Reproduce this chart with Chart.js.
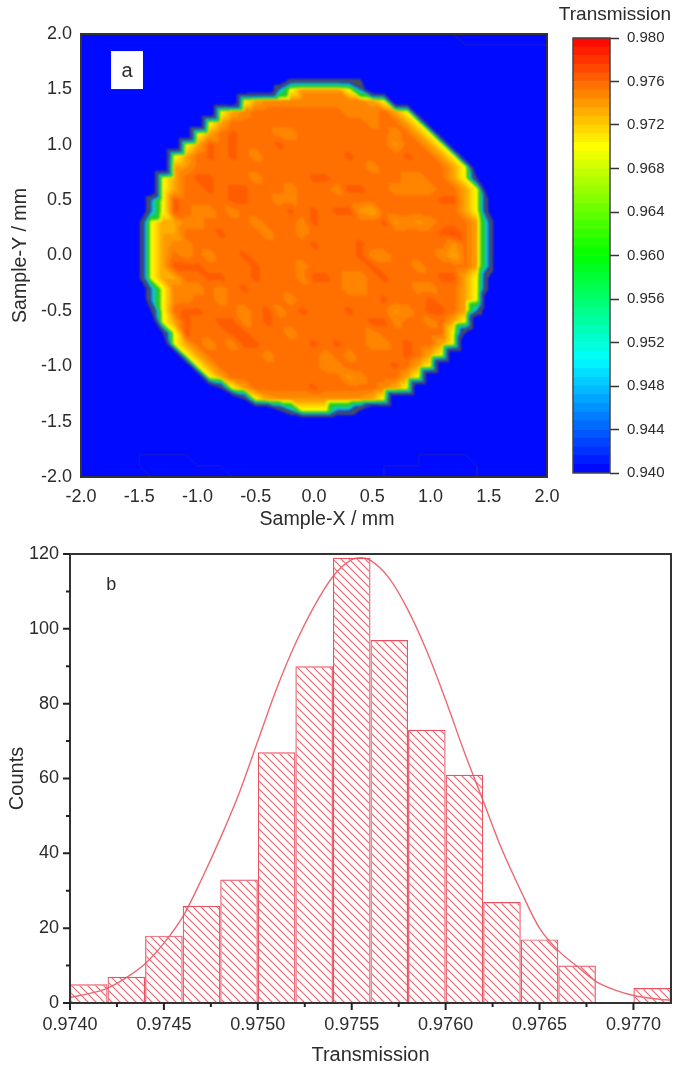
<!DOCTYPE html>
<html>
<head>
<meta charset="utf-8">
<title>Transmission</title>
<script src="https://cdn.jsdelivr.net/npm/chart.js@4"></script>
<style>
  html, body { margin: 0; padding: 0; background: #fff; }
  canvas { position: absolute; }
  #mapChart { left: 0; top: 0; }
  #barChart { left: 556px; top: 0; }
  #histChart { left: 0; top: 530px; }
</style>
</head>
<body>
<canvas id="mapChart" width="570" height="534"></canvas>
<canvas id="barChart" width="118" height="490"></canvas>
<canvas id="histChart" width="674" height="537"></canvas>
<script>
// panel a: transmission read on a 0.1 mm grid, one letter per node
const gridCoords = [-2.0,-1.9,-1.8,-1.7,-1.6,-1.5,-1.4,-1.3,-1.2,-1.1,-1.0,-0.9,-0.8,-0.7,-0.6,-0.5,-0.4,-0.3,-0.2,-0.1,0,
  0.1,0.2,0.3,0.4,0.5,0.6,0.7,0.8,0.9,1.0,1.1,1.2,1.3,1.4,1.5,1.6,1.7,1.8,1.9,2.0];
const cellKeys = '.igyabcdef';
const cellValues = [0.900,0.925,0.945,0.970,0.9735,0.9742,0.9748,0.9755,0.9763,0.9770];
const firstRow = 4;
const rowStart = [18,17,14,12,11,10,9,8,8,7,7,6,6,5,5,5,5,5,5,6,6,6,7,7,8,9,10,11,12,14,17];
const rowCells = [
  'iiiiiii',
  'gybbbbyg',
  'yacccccccccay',
  'yacddddddddcccday',
  'yaddddddddddddcdday',
  'yadedddccddddddddcday',
  'yaededddedddddddddbdday',
  'yadededcdddddddeddddedday',
  'abdddddddddddddddcdddddday',
  'yadeedddcddddeeddddddccddayi',
  'yaddedeedddcdddceeddccccdday',
  'gyeddddeeddccddddddddddddeeayi',
  'gyedccdcddddededeebadddddddayi',
  'iyaaccddddcdddcedddddebcbcdddag',
  'iyaadddedddcddcdddddddddddefdag',
  'iyaccddddddddddedddedddddddbdag',
  'iyadcdcddedddddddddeccddddcadag',
  'iyaeeeddddedddcdddddedddcddddag',
  'iyaaddeeddedddceedccdeddddeeayi',
  'gycccdcdeddddddddccddddccddayi',
  'gyccddcdddddcdddddddedddedday',
  'iydeedddcdecdedddedddbcdeedag',
  'yaeddeecdeddddddddeecddcday',
  'iyedddeedddcddddddcddddddyi',
  'yadcdceeddddededdccdedday',
  'yadddddcddddcdcddddeday',
  'yadddddddddccddddeday',
  'yaddddddddddbcddday',
  'iyadddddedddddcay',
  'iyabbbbbbbbay',
  'igyyyggi'
];
const mapTicks = [-2.0,-1.5,-1.0,-0.5,0,0.5,1.0,1.5,2.0];

// faint low level contour lines in the blue corners
const lineTopX = [1.2,1.3,2.0];
const lineTopY = [2.0,1.9,1.9];
const lineLeftX = [-1.4,-1.5,-1.5,-1.1,-1.0,-0.8,-0.7];
const lineLeftY = [-2.0,-1.9,-1.8,-1.8,-1.9,-1.9,-2.0];
const lineRightX = [0.6,0.6,0.9,0.9,1.3,1.4,1.4];
const lineRightY = [-2.0,-1.9,-1.9,-1.8,-1.8,-1.9,-2.0];

// colour scale
const levelEdges = [0.9400,0.9408,0.9416,0.9424,0.9432,0.9440,0.9448,0.9456,0.9464,0.9472,0.9480,0.9488,0.9496,
  0.9504,0.9512,0.9520,0.9528,0.9536,0.9544,0.9552,0.9560,0.9568,0.9576,0.9584,0.9592,0.9600,0.9608,0.9616,0.9624,
  0.9632,0.9640,0.9648,0.9656,0.9664,0.9672,0.9680,0.9688,0.9696,0.9704,0.9712,0.9720,0.9728,0.9736,0.9744,0.9752,
  0.9760,0.9768,0.9776,0.9784,0.9792,0.9800];
const barTicks = [0.940,0.944,0.948,0.952,0.956,0.960,0.964,0.968,0.972,0.976,0.980];
const stopValues = [0.940,0.9505,0.960,0.970,0.980];
const stopColors = [[0,0,255],[0,255,255],[0,255,0],[255,255,0],[255,0,0]];

// panel b: histogram and fitted curve
const binCenters = [0.9741,0.9743,0.9745,0.9747,0.9749,0.9751,0.9753,0.9755,0.9757,0.9759,0.9761,0.9763,0.9765,0.9767,0.9769,0.9771];
const binCounts = [5,7,18,26,33,67,90,119,97,73,61,27,17,10,0,4];
const curveX = [0.9740,0.9741,0.9742,0.9743,0.9744,0.9745,0.9746,0.9747,0.9748,0.9749,0.9750,0.9751,0.9752,0.9753,0.9754,0.9755,
  0.97555,0.9756,0.9757,0.9758,0.9759,0.9760,0.9761,0.9762,0.9763,0.9764,0.9765,0.9766,0.9767,0.9768,0.9769,0.9770,0.9771,0.9772];
const curveY = [1.5,2.5,4,6.8,10.5,16,23,33,44,56,70,84,96,106,114,118.5,119,118.3,113.5,105,94,81,67,54,41,30,20,14,9.8,5.8,3.5,2,1.2,0.7];
const histXTicks = [0.9740,0.9745,0.9750,0.9755,0.9760,0.9765,0.9770];
const histXMinor = [0.97425,0.97475,0.97525,0.97575,0.97625,0.97675];
const histYTicks = [0,20,40,60,80,100,120];
const histYMinor = [10,30,50,70,90,110];

const FONT = '"Liberation Sans", Arial, sans-serif';
const TEXT = '#2b2b2b';
const RED = '#ea5262';
const RIM = [70, 78, 92];

function zip(xs, ys) { return xs.map((x, i) => ({ x, y: ys[i] })); }

function colorFor(v) {
  if (v <= stopValues[0]) return stopColors[0];
  for (let i = 1; i < stopValues.length; i++) {
    if (v <= stopValues[i]) {
      const t = (v - stopValues[i-1]) / (stopValues[i] - stopValues[i-1]);
      return stopColors[i].map((c, k) => Math.round(stopColors[i-1][k] + (c - stopColors[i-1][k]) * t));
    }
  }
  return stopColors[stopColors.length - 1];
}

function bandColor(v) {
  const n = levelEdges.length - 1;
  let k = Math.floor((v - levelEdges[0]) / (levelEdges[n] - levelEdges[0]) * n);
  k = Math.max(0, Math.min(n - 1, k));
  return colorFor((levelEdges[k] + levelEdges[k+1]) / 2);
}

// contour lines of the low levels run together at the steep rim and dull the colours there
function meshColor(v) {
  if (v >= 0.927 && v < 0.94) return RIM;
  const rgb = bandColor(v);
  if (v >= 0.94 && v < 0.966) return rgb.map((c, k) => Math.round(c * 0.7 + RIM[k] * 0.3));
  return rgb;
}

// node matrix, row 0 is y = 2.0
const grid = gridCoords.map(() => gridCoords.map(() => cellValues[0]));
rowCells.forEach((cells, r) => {
  [...cells].forEach((ch, c) => { grid[firstRow + r][rowStart[r] + c] = cellValues[cellKeys.indexOf(ch)]; });
});
const meshPoints = [];
grid.forEach((row, j) => row.forEach((v, i) => meshPoints.push({ x: gridCoords[i], y: -gridCoords[j], v })));

// fills the chart area from the node matrix, split along the same diagonal in every quad
const contourFill = {
  id: 'contourFill',
  beforeDatasetsDraw(chart) {
    const { ctx, chartArea: area, scales: { x, y } } = chart;
    const w = Math.round(area.right - area.left), h = Math.round(area.bottom - area.top);
    const off = document.createElement('canvas');
    off.width = w; off.height = h;
    const octx = off.getContext('2d');
    const img = octx.createImageData(w, h);
    for (let py = 0; py < h; py++) {
      const gy = (2 - y.getValueForPixel(area.top + py + 0.5)) * 10;
      const j = Math.min(39, Math.max(0, Math.floor(gy)));
      const fy = gy - j;
      for (let px = 0; px < w; px++) {
        const gx = (x.getValueForPixel(area.left + px + 0.5) + 2) * 10;
        const i = Math.min(39, Math.max(0, Math.floor(gx)));
        const fx = gx - i;
        let v;
        if (fx >= fy) v = grid[j][i] + fx * (grid[j][i+1] - grid[j][i]) + fy * (grid[j+1][i+1] - grid[j][i+1]);
        else v = grid[j][i] + fy * (grid[j+1][i] - grid[j][i]) + fx * (grid[j+1][i+1] - grid[j+1][i]);
        const rgb = meshColor(v);
        const p = (py * w + px) * 4;
        img.data[p] = rgb[0]; img.data[p+1] = rgb[1]; img.data[p+2] = rgb[2]; img.data[p+3] = 255;
      }
    }
    octx.putImageData(img, 0, 0);
    ctx.save();
    ctx.fillStyle = '#0000ff';
    ctx.fillRect(area.left, area.top, w, h);
    ctx.beginPath();
    ctx.rect(area.left, area.top, w, h);
    ctx.clip();
    ctx.filter = 'blur(0.9px)';
    ctx.drawImage(off, area.left, area.top);
    ctx.restore();
  }
};

const frame = {
  id: 'frame',
  afterDatasetsDraw(chart, args, opts) {
    const { ctx, chartArea: a } = chart;
    ctx.save();
    ctx.strokeStyle = opts.color || '#333';
    ctx.lineWidth = opts.width || 2;
    ctx.strokeRect(a.left, a.top, a.right - a.left, a.bottom - a.top);
    ctx.restore();
  }
};

// letter tag inside a panel, placed in data coordinates
const tag = {
  id: 'tag',
  afterDraw(chart, args, opts) {
    if (!opts.text) return;
    const { ctx, scales: { x, y } } = chart;
    ctx.save();
    if (opts.box) {
      const l = x.getPixelForValue(opts.box[0]), r = x.getPixelForValue(opts.box[1]);
      const t = y.getPixelForValue(opts.box[2]), b = y.getPixelForValue(opts.box[3]);
      ctx.fillStyle = '#fff';
      ctx.fillRect(l, t, r - l, b - t);
    }
    ctx.fillStyle = TEXT;
    ctx.font = opts.size + 'px ' + FONT;
    ctx.textAlign = 'center';
    ctx.textBaseline = 'middle';
    ctx.fillText(opts.text, x.getPixelForValue(opts.at[0]), y.getPixelForValue(opts.at[1]));
    ctx.restore();
  }
};

// axis captions that do not sit centred on their axis
const caption = {
  id: 'caption',
  afterDraw(chart, args, opts) {
    const { ctx } = chart;
    ctx.save();
    ctx.fillStyle = TEXT;
    ctx.font = opts.size + 'px ' + FONT;
    ctx.textAlign = 'center';
    ctx.textBaseline = 'middle';
    ctx.fillText(opts.text, opts.x, opts.y);
    ctx.restore();
  }
};

// Chart.js has one tick length per axis, so both sizes are stroked here
const histTicks = {
  id: 'histTicks',
  afterDraw(chart) {
    const { ctx, chartArea: a, scales: { x, y } } = chart;
    const mark = (values, size) => {
      ctx.beginPath();
      values.forEach(v => {
        const px = x.getPixelForValue(v);
        ctx.moveTo(px, a.bottom); ctx.lineTo(px, a.bottom + size);
      });
      ctx.stroke();
    };
    const markY = (values, size) => {
      ctx.beginPath();
      values.forEach(v => {
        const py = y.getPixelForValue(v);
        ctx.moveTo(a.left, py); ctx.lineTo(a.left - size, py);
      });
      ctx.stroke();
    };
    ctx.save();
    ctx.strokeStyle = '#222';
    ctx.lineWidth = 2;
    mark(histXTicks, 7);
    mark(histXMinor, 4);
    markY(histYTicks, 7);
    markY(histYMinor, 4);
    ctx.restore();
  }
};

function fixedTicks(values) {
  return scale => { scale.ticks = values.map(value => ({ value })); };
}

function hatch() {
  const c = document.createElement('canvas');
  c.width = 8; c.height = 8;
  const g = c.getContext('2d');
  g.strokeStyle = '#ee6873';
  g.lineWidth = 1.2;
  g.beginPath();
  g.moveTo(-2, -2); g.lineTo(10, 10);
  g.moveTo(6, -2); g.lineTo(10, 2);
  g.moveTo(-2, 6); g.lineTo(2, 10);
  g.stroke();
  return g.createPattern(c, 'repeat');
}

const faintLine = { type: 'scatter', showLine: true, pointRadius: 0, borderColor: '#1c1cc4', borderWidth: 1 };

new Chart(document.getElementById('mapChart'), {
  type: 'scatter',
  data: {
    datasets: [
      { label: 'mesh', data: meshPoints, pointRadius: 0 },
      { label: 'top', data: zip(lineTopX, lineTopY), ...faintLine },
      { label: 'left', data: zip(lineLeftX, lineLeftY), ...faintLine },
      { label: 'right', data: zip(lineRightX, lineRightY), ...faintLine }
    ]
  },
  options: {
    responsive: false,
    animation: false,
    events: [],
    layout: { padding: { top: 34, right: 23 } },
    plugins: {
      legend: { display: false },
      tooltip: { enabled: false },
      frame: { color: '#333', width: 2 },
      tag: { text: 'a', size: 20, box: [-1.742, -1.468, 1.846, 1.503], at: [-1.605, 1.665] },
      caption: { text: 'Sample-X / mm', size: 19.6, x: 327, y: 520 }
    },
    scales: {
      x: {
        type: 'linear', min: -2, max: 2,
        afterFit: s => { s.height = 57; },
        afterBuildTicks: fixedTicks(mapTicks),
        grid: { display: false, drawTicks: false },
        border: { display: false },
        ticks: { autoSkip: false, maxRotation: 0, padding: 9, color: TEXT, font: { family: FONT, size: 18 }, callback: v => v.toFixed(1) }
      },
      y: {
        type: 'linear', min: -2, max: 2,
        afterFit: s => { s.width = 81; },
        afterBuildTicks: fixedTicks(mapTicks),
        grid: { display: false, drawTicks: false },
        border: { display: false },
        ticks: { autoSkip: false, padding: 9, color: TEXT, font: { family: FONT, size: 18 }, callback: v => v.toFixed(1) },
        title: { display: true, text: 'Sample-Y / mm', color: TEXT, font: { family: FONT, size: 19.6 }, padding: { top: 9, bottom: 0 } }
      }
    }
  },
  plugins: [contourFill, frame, tag, caption]
});

new Chart(document.getElementById('barChart'), {
  type: 'bar',
  data: {
    labels: [''],
    datasets: levelEdges.slice(0, -1).map((lo, i) => ({
      data: [[lo, levelEdges[i+1]]],
      backgroundColor: 'rgb(' + bandColor((lo + levelEdges[i+1]) / 2).join(',') + ')',
      grouped: false,
      barPercentage: 1,
      categoryPercentage: 1
    }))
  },
  options: {
    responsive: false,
    animation: false,
    events: [],
    layout: { padding: { top: 38, left: 17, bottom: 17 } },
    plugins: {
      legend: { display: false },
      tooltip: { enabled: false },
      frame: { color: '#444', width: 1.5 },
      caption: { text: 'Transmission', size: 19, x: 59, y: 15 }
    },
    scales: {
      x: { display: false },
      y: {
        position: 'right', min: 0.94, max: 0.98,
        afterFit: s => { s.width = 64; },
        afterBuildTicks: fixedTicks(barTicks),
        grid: { drawOnChartArea: false, tickLength: 9, tickColor: '#333', tickWidth: 1.5 },
        border: { display: false },
        ticks: { autoSkip: false, padding: 8, color: TEXT, font: { family: FONT, size: 15 }, callback: v => v.toFixed(3) }
      }
    }
  },
  plugins: [frame, caption]
});

new Chart(document.getElementById('histChart'), {
  type: 'bar',
  data: {
    datasets: [
      {
        label: 'Counts',
        data: zip(binCenters, binCounts),
        backgroundColor: hatch(),
        borderColor: RED,
        borderWidth: 1.2,
        barPercentage: 1,
        categoryPercentage: 1,
        inflateAmount: 0
      },
      {
        type: 'line',
        label: 'Fit',
        data: zip(curveX, curveY),
        borderColor: '#ea6a72',
        borderWidth: 1.4,
        pointRadius: 0,
        cubicInterpolationMode: 'monotone'
      }
    ]
  },
  options: {
    responsive: false,
    animation: false,
    events: [],
    layout: { padding: { top: 24, right: 3 } },
    plugins: {
      legend: { display: false },
      tooltip: { enabled: false },
      frame: { color: '#333', width: 2 },
      tag: { text: 'b', size: 18, at: [0.97422, 111.7] }
    },
    scales: {
      x: {
        type: 'linear', min: 0.974, max: 0.9772, offset: false,
        afterFit: s => { s.height = 64; },
        afterBuildTicks: fixedTicks(histXTicks),
        grid: { display: false, tickLength: 7 },
        border: { display: false },
        ticks: { autoSkip: false, maxRotation: 0, padding: 4, color: TEXT, font: { family: FONT, size: 18 }, callback: v => v.toFixed(4) },
        title: { display: true, text: 'Transmission', color: TEXT, font: { family: FONT, size: 20 }, padding: { top: 0, bottom: 0 } }
      },
      y: {
        type: 'linear', min: 0, max: 120,
        afterFit: s => { s.width = 70; },
        afterBuildTicks: fixedTicks(histYTicks),
        grid: { display: false, tickLength: 7 },
        border: { display: false },
        ticks: { autoSkip: false, padding: 4, color: TEXT, font: { family: FONT, size: 18 } },
        title: { display: true, text: 'Counts', color: TEXT, font: { family: FONT, size: 20 }, padding: { top: 5, bottom: 0 } }
      }
    }
  },
  plugins: [frame, tag, histTicks]
});
</script>
</body>
</html>
